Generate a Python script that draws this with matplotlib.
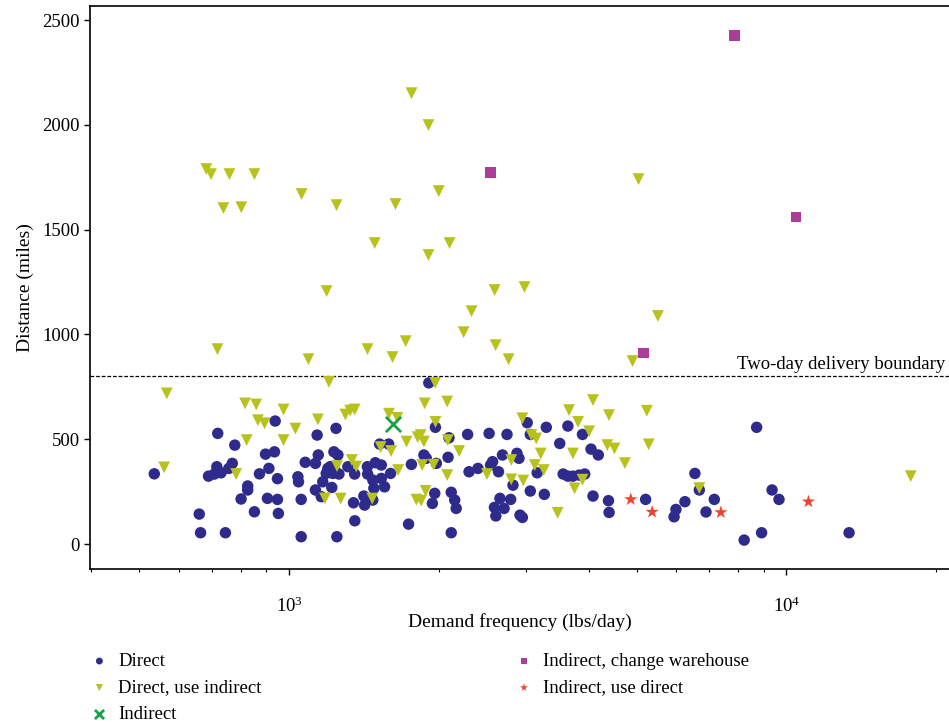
import numpy as np
import matplotlib
matplotlib.use("Agg")
import matplotlib.pyplot as plt

plt.rcParams['font.family'] = ['Liberation Serif', 'DejaVu Serif']
plt.rcParams['mathtext.default'] = 'regular'

# Direct (circles): demand (lbs/day), distance (miles)
direct_x = [938, 719, 778, 897, 935, 536, 689, 716, 708, 730, 757, 769, 872, 911, 948,
            826, 826, 801, 905, 948, 852, 952, 660, 664, 745,
            1058, 1248, 1042, 1045, 1058, 1078, 1130, 1145, 1139, 1243, 1231, 1254, 1197, 1210,
            1234, 1188, 1225, 1260, 1169, 1219, 1130, 1161, 1313, 1355, 1348, 1356, 1437, 1439,
            1491, 1533, 1474, 1481, 1533, 1556, 1414, 1419, 1474, 1600, 1521, 1586, 1739, 1910,
            1762, 1867, 1888, 1978, 1969, 1963, 1942,
            2097, 2088, 2286, 2525, 2743, 3012, 3055, 3290, 3636, 3890, 3501, 4047, 4185, 2686,
            2872, 2899, 2566, 2542, 2398, 2301, 2637, 3154, 3557, 3636, 3720, 3830, 3930, 2820,
            3055, 3260, 2655, 2790, 2588, 2706, 2605, 2913, 2945, 4084, 2119, 2153, 2168, 2119,
            4387, 4400, 5210, 5995, 5944, 6250, 6545, 6680, 6890, 7160, 8710, 8222, 8913, 9355,
            9660, 13360]
direct_y = [587, 528, 472, 429, 440, 335, 324, 369, 334, 340, 361, 385, 335, 361, 312,
            277, 258, 215, 218, 213, 154, 146, 143, 54, 54,
            35, 35, 321, 297, 213, 390, 385, 425, 520, 552, 440, 425, 361, 369,
            353, 337, 337, 334, 297, 270, 258, 226, 369, 334, 197, 111, 369, 334,
            388, 377, 305, 266, 313, 273, 229, 186, 210, 337, 477, 477, 95, 769,
            380, 425, 409, 385, 557, 242, 194,
            507, 414, 523, 528, 523, 579, 523, 557, 563, 523, 480, 453, 425, 425,
            433, 409, 393, 377, 361, 345, 345, 340, 334, 324, 324, 329, 334, 281,
            253, 237, 218, 213, 175, 170, 134, 138, 127, 229, 247, 210, 170, 54,
            207, 151, 213, 165, 130, 202, 337, 258, 153, 213, 557, 19, 54, 258,
            213, 54]

# Direct, use indirect (triangles)
use_ind_x = [682, 697, 759, 852, 738, 802, 1060, 1246, 1637, 1763, 1907, 2000, 1487, 2102,
             1907, 1190, 2590, 2974, 2328, 2244, 5042, 5515, 718, 1094, 1438, 1615, 1716,
             2602, 2763, 4905,
             568, 816, 859, 975, 866, 893, 822, 975, 561, 783, 1030, 1143, 1298, 1327, 1355,
             1203, 1588, 1651, 1528, 1604, 1723, 1249, 1338, 1365, 1657, 1181, 1270, 1470,
             1874, 1967, 1970, 1814, 1839, 1867, 1852, 1953, 1803, 1843, 1882, 2080, 2080,
             2085, 2198, 2500, 2798, 2798, 2957, 2945, 3070, 3140, 3206, 3120, 3252, 3655,
             3811, 4084, 4011, 3722, 3890, 3750, 3467, 4397, 4364, 4510, 4733, 5240, 5285,
             6680, 17780]
use_ind_y = [1789, 1765, 1765, 1765, 1603, 1607, 1670, 1617, 1622, 2151, 1999, 1684, 1436, 1436,
             1379, 1207, 1212, 1226, 1111, 1011, 1741, 1088, 930, 882, 930, 892, 968,
             949, 882, 873,
             719, 671, 666, 642, 591, 576, 496, 496, 366, 334, 551, 595, 618, 637, 642,
             774, 622, 602, 463, 444, 489, 372, 401, 370, 353, 218, 217, 217,
             671, 769, 583, 510, 520, 489, 377, 379, 212, 207, 254, 329, 680,
             496, 444, 334, 401, 309, 303, 600, 520, 504, 432, 377, 353, 639,
             583, 687, 538, 432, 307, 266, 149, 615, 472, 456, 386, 636, 476,
             267, 324]

# Indirect (cross)
indirect_x = [1618]
indirect_y = [572]

# Indirect, change warehouse (squares)
change_x = [7870, 2541, 10450, 5164]
change_y = [2428, 1774, 1560, 911]

# Indirect, use direct (stars)
use_dir_x = [4864, 5370, 7380, 11070]
use_dir_y = [213, 153, 151, 202]

boundary = 800

fig = plt.figure(figsize=(9.49, 7.23), dpi=100)
ax = fig.add_axes([0.0948, 0.213, 0.905, 0.7787])

ax.scatter(direct_x, direct_y, s=68, marker='o', color='#2e2b8c', edgecolors='none',
           label='Direct', zorder=3)
ax.scatter(use_ind_x, use_ind_y, s=72, marker='v', color='#b8c21c', edgecolors='none',
           label='Direct, use indirect', zorder=3)
ax.scatter(indirect_x, indirect_y, s=120, marker='x', color='#17a24a', linewidths=2,
           label='Indirect', zorder=4)
ax.scatter(change_x, change_y, s=60, marker='s', color='#a93d98', edgecolors='none',
           label='Indirect, change warehouse', zorder=3)
ax.scatter(use_dir_x, use_dir_y, s=100, marker='*', color='#f0432f', edgecolors='none',
           label='Indirect, use direct', zorder=3)

ax.axhline(boundary, color='black', linestyle=(0, (3, 1.5)), linewidth=0.9)
ax.text(0.996, boundary + 15, 'Two-day delivery boundary', transform=ax.get_yaxis_transform(),
        ha='right', va='bottom', fontsize=13.5)

ax.set_xscale('log')
ax.set_xlim(398, 21200)
ax.set_ylim(-119, 2567)
ax.set_yticks([0, 500, 1000, 1500, 2000, 2500])

ax.spines['right'].set_visible(False)
for s in ['left', 'bottom', 'top']:
    ax.spines[s].set_linewidth(1.2)

ax.tick_params(axis='both', which='major', length=4, width=1, labelsize=13.5, direction='out')
ax.tick_params(axis='x', which='minor', length=2.5, width=0.8, direction='out')
ax.tick_params(axis='x', which='major', pad=16)

ax.set_xlabel('Demand frequency (lbs/day)', fontsize=14, labelpad=-2)
ax.set_ylabel('Distance (miles)', fontsize=14, labelpad=6)

ax.legend(loc='upper left', bbox_to_anchor=(0.083, 0.11), bbox_transform=fig.transFigure,
          ncol=2, frameon=False, fontsize=13.5, markerscale=0.6, handletextpad=0.4,
          columnspacing=13.4, labelspacing=0.5, borderpad=0, handlelength=1.2)

fig.savefig('out.png', dpi=100)
